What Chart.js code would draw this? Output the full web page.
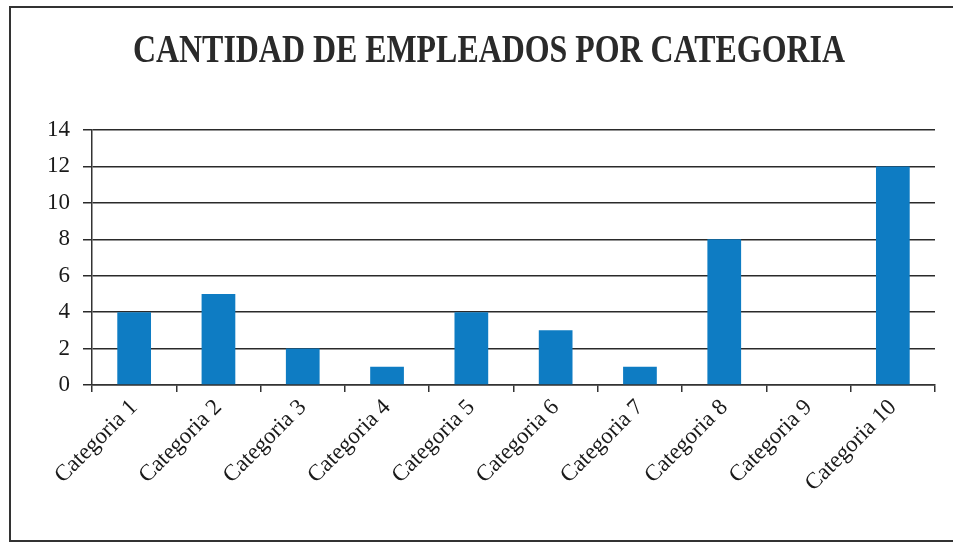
<!DOCTYPE html>
<html><head><meta charset="utf-8">
<script src="https://cdn.jsdelivr.net/npm/chart.js@4/dist/chart.umd.min.js"></script>
<style>html,body{margin:0;padding:0;background:#fff;}#wrap{width:953px;height:544px;position:relative;}</style>
</head><body><div id="wrap"><canvas id="c" width="953" height="544"></canvas></div>
<script>
const titleText = 'CANTIDAD DE EMPLEADOS POR CATEGORIA';
const categories = ['Categoria 1','Categoria 2','Categoria 3','Categoria 4','Categoria 5','Categoria 6','Categoria 7','Categoria 8','Categoria 9','Categoria 10'];
const empleados = [4,5,2,1,4,3,1,8,0,12];
const yTicks = [0,2,4,6,8,10,12,14];

const borderPlugin = {
  id: 'outerBorder',
  beforeDraw(chart){
    const ctx = chart.ctx;
    ctx.save();
    ctx.fillStyle = '#fff';
    ctx.fillRect(0,0,chart.width,chart.height);
    ctx.strokeStyle = '#333';
    ctx.lineWidth = 2;
    ctx.beginPath();
    ctx.moveTo(953,7); ctx.lineTo(10,7); ctx.lineTo(10,541); ctx.lineTo(953,541);
    ctx.stroke();
    ctx.restore();
  }
};

// condensed bold title drawn as real canvas text
const condensedTitle = {
  id: 'condensedTitle',
  afterDraw(chart){
    const ctx = chart.ctx;
    ctx.save();
    ctx.font = 'bold 40px "Liberation Serif"';
    const w = ctx.measureText(titleText).width;
    const target = 712;
    const sx = target / w;
    ctx.translate(489, 62);
    ctx.scale(sx, 1);
    ctx.fillStyle = '#2a2a2a';
    ctx.textAlign = 'center';
    ctx.textBaseline = 'alphabetic';
    ctx.fillText(titleText, 0, 0);
    ctx.restore();
  }
};

new Chart(document.getElementById('c'), {
  type: 'bar',
  data: {
    labels: categories,
    datasets: [{
      data: empleados,
      backgroundColor: '#0e7cc3',
      borderWidth: 0,
      categoryPercentage: 1.0,
      barPercentage: 0.4
    }]
  },
  options: {
    responsive: false,
    animation: false,
    devicePixelRatio: 1,
    layout: { padding: { left: 43, right: 18, top: 130, bottom: 6 } },
    plugins: {
      legend: { display: false },
      tooltip: { enabled: false },
      title: { display: false }
    },
    scales: {
      x: {
        grid: { display: true, drawOnChartArea: false, drawTicks: true, tickLength: 7, offset: true, color: '#333', lineWidth: 1.5 },
        border: { display: true, color: '#333', width: 1.5 },
        ticks: { color: '#1a1a1a', maxRotation: 45, minRotation: 45, padding: 2, font: { family: 'Liberation Serif', size: 23 } },
        afterFit(s){ s.height = 153; }
      },
      y: {
        min: 0, max: 14,
        afterBuildTicks(s){ s.ticks = yTicks.map(v => ({ value: v })); },
        grid: { color: '#2a2a2a', lineWidth: 1.5, tickLength: 9 },
        border: { display: true, color: '#333', width: 1.5 },
        ticks: { color: '#1a1a1a', padding: 13, font: { family: 'Liberation Serif', size: 23 } },
        afterFit(s){ s.width = 49; }
      }
    }
  },
  plugins: [borderPlugin, condensedTitle]
});
</script></body></html>
